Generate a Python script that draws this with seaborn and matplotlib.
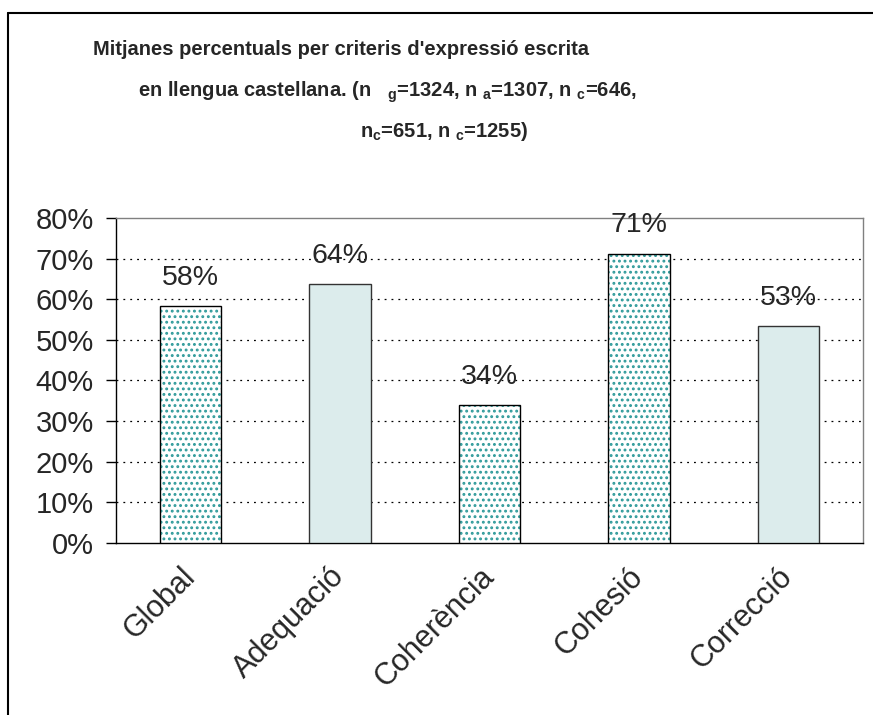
import matplotlib
matplotlib.use("Agg")
import matplotlib.pyplot as plt
import numpy as np
import pandas as pd
import seaborn as sns
from matplotlib.lines import Line2D

# dades del gràfic
categories = ["Global", "Adequació", "Coherència", "Cohesió", "Correcció"]
values = [58.3, 63.8, 34.0, 71.2, 53.3]
value_labels = ["58%", "64%", "34%", "71%", "53%"]
dotted = [True, False, True, True, False]
yticks = [0, 10, 20, 30, 40, 50, 60, 70, 80]

title_lines = [
    "Mitjanes percentuals per criteris d'expressió escrita",
    r"en llengua castellana. (n   $_\mathbf{g}$=1324, n $_\mathbf{a}$=1307, n $_\mathbf{c}$=646,",
    r"n$_\mathbf{c}$=651, n $_\mathbf{c}$=1255)",
]

teal = "#2f9a9a"
light = "#dcecec"

sns.set_style("white")
plt.rcParams["font.family"] = ["Liberation Sans", "DejaVu Sans"]
plt.rcParams["mathtext.fontset"] = "custom"
plt.rcParams["mathtext.rm"] = "Liberation Sans"
plt.rcParams["mathtext.bf"] = "Liberation Sans:bold"
plt.rcParams["hatch.linewidth"] = 1.3

df = pd.DataFrame({"cat": categories, "val": values})

fig = plt.figure(figsize=(8.73, 7.15), dpi=100)
ax = fig.add_axes([0.1329, 0.2406, 0.8556, 0.4545])

palette = {c: ("white" if d else light) for c, d in zip(categories, dotted)}
sns.barplot(data=df, x="cat", y="val", hue="cat", palette=palette,
            width=0.41, saturation=1, legend=False, ax=ax, zorder=3)

for p, d in zip(sorted(ax.patches, key=lambda r: r.get_x()), dotted):
    if d:
        p.set_hatch("...")
        p.set_edgecolor(teal)
        p.set_linewidth(0)
    else:
        p.set_edgecolor("#333333")
        p.set_linewidth(1.0)

# contorn negre dels barres puntejades
x_pos = np.arange(len(categories))
ax.bar(x_pos[np.array(dotted)], np.array(values)[np.array(dotted)], width=0.41,
       fill=False, edgecolor="black", linewidth=1.0, zorder=4)

# etiquetes de valors
for xi, v, lab in zip(x_pos, values, value_labels):
    ax.annotate(lab, (xi, v), xytext=(0, 11), textcoords="offset points",
                ha="center", va="bottom", fontsize=20.5)

ax.set_xlim(-0.5, len(categories) - 0.5)
ax.set_ylim(0, 80)
ax.set_yticks(yticks)
ax.set_yticklabels([f"{t}%" for t in yticks], fontsize=21)
ax.set_xticks(x_pos)
ax.set_xticklabels(categories, rotation=45, ha="right", va="center",
                   rotation_mode="anchor", fontsize=22)
ax.set_xticks(np.arange(-0.5, len(categories)), minor=True)
ax.tick_params(axis="x", which="major", length=0, pad=21)
ax.tick_params(axis="x", which="minor", length=9, width=1, color="black", direction="out")
ax.tick_params(axis="y", length=7, width=1, color="black", direction="out", left=True, pad=9)
ax.set_xlabel("")
ax.set_ylabel("")

for t in yticks[1:-1]:
    ax.axhline(t, color="black", linestyle=(0, (1.5, 4)), linewidth=0.9, zorder=1)

ax.spines["left"].set_color("black")
ax.spines["bottom"].set_color("black")
ax.spines["top"].set_color("#808080")
ax.spines["right"].set_color("#808080")
for s in ax.spines.values():
    s.set_linewidth(1.0)
    s.set_visible(True)

# títol
title_pos = [(0.391, 0.931), (0.444, 0.871), (0.509, 0.816)]
for line, (tx, ty) in zip(title_lines, title_pos):
    fig.text(tx, ty, line, ha="center", va="center", fontsize=14.5, fontweight="bold")

# marc de la figura
fig.add_artist(Line2D([0.0092, 0.0092], [0, 0.982], color="black", linewidth=1.5))
fig.add_artist(Line2D([0.0092, 1.0], [0.982, 0.982], color="black", linewidth=1.5))

fig.savefig("out.png", dpi=100)
